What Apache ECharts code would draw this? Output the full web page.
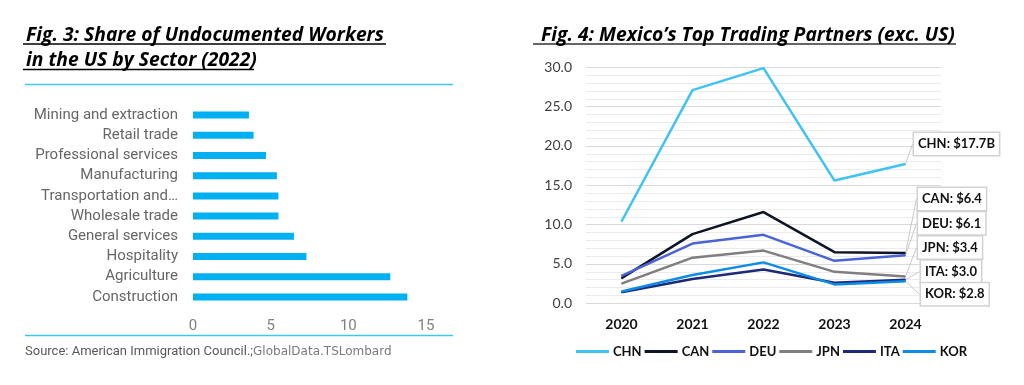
<!DOCTYPE html>
<html>
<head>
<meta charset="utf-8">
<script src="https://cdn.jsdelivr.net/npm/echarts@6/dist/echarts.min.js"></script>
<style>
html,body{margin:0;padding:0;background:#fff;}
#chart{width:1024px;height:385px;}
</style>
</head>
<body>
<div id="chart"></div>
<script>
// ---- Fig. 3 data ----
const sectors = ["Mining and extraction","Retail trade","Professional services","Manufacturing","Transportation and\u2026","Wholesale trade","General services","Hospitality","Agriculture","Construction"];
const sectorShare = [3.6, 3.9, 4.7, 5.4, 5.5, 5.5, 6.5, 7.3, 12.7, 13.8];
const shareTicks = [0, 5, 10, 15];

// ---- Fig. 4 data ----
const years = ["2020","2021","2022","2023","2024"];
const CHN = [10.4, 27.1, 29.9, 15.6, 17.7];
const CAN = [3.2, 8.8, 11.6, 6.5, 6.4];
const DEU = [3.5, 7.6, 8.7, 5.4, 6.1];
const JPN = [2.5, 5.8, 6.7, 4.0, 3.4];
const ITA = [1.4, 3.1, 4.3, 2.6, 3.0];
const KOR = [1.5, 3.6, 5.2, 2.4, 2.8];
const partnerTicks = [0, 5, 10, 15, 20, 25, 30];

const partners = [
  {name:"CHN", data:CHN, color:"#3EC3F3", suffix:"B", dx:3, dy:-20},
  {name:"CAN", data:CAN, color:"#0E1428", suffix:"", dx:7, dy:-54},
  {name:"DEU", data:DEU, color:"#4A63D8", suffix:"", dx:7, dy:-32},
  {name:"JPN", data:JPN, color:"#7F7F7F", suffix:"", dx:7, dy:-29},
  {name:"ITA", data:ITA, color:"#1C2A78", suffix:"", dx:10, dy:-8},
  {name:"KOR", data:KOR, color:"#0C8CE6", suffix:"", dx:10, dy:13}
];

const chart = echarts.init(document.getElementById('chart'), null, {renderer:'canvas'});

const titleStyle = {fontFamily:'Open Sans', fontWeight:'bold', fontStyle:'italic', fontSize:19.3, color:'#000'};

const lineSeries = partners.map(p => ({
  name: p.name,
  type: 'line',
  xAxisIndex: 1, yAxisIndex: 1,
  symbol: 'circle', symbolSize: 1, showSymbol: true,
  lineStyle: {color: p.color, width: 2.5},
  itemStyle: {color: p.color},
  z: 3,
  data: p.data.map((v, i) => i === p.data.length - 1 ? {
    value: v,
    label: {
      show: true,
      position: 'right',
      distance: 5,
      formatter: p.name + ': $' + v.toFixed(1) + p.suffix,
      fontFamily: 'Lato', fontWeight: 'bold', fontSize: 13, color: '#111',
      backgroundColor: '#fff', borderColor: '#d2d2d2', borderWidth: 1.5,
      padding: [5, 4, 4, 4]
    }
  } : v),
  labelLayout: {dx: p.dx, dy: p.dy, hideOverlap: false},
  labelLine: {show: true, lineStyle: {color: '#c9c9c9', width: 1}},
  emphasis: {disabled: true}
}));

const option = {
  animation: false,
  backgroundColor: '#fff',
  title: [
    {text: 'Fig. 3: Share of Undocumented Workers', left: 21, top: 21, textStyle: titleStyle},
    {text: 'in the US by Sector (2022)', left: 21, top: 46.5, textStyle: titleStyle},
    {text: 'Fig. 4: Mexico\u2019s Top Trading Partners (exc. US)', left: 536, top: 21, textStyle: titleStyle}
  ],
  graphic: [
    {type:'line', shape:{x1:23, y1:44, x2:386, y2:44}, style:{stroke:'#000', lineWidth:1.5}},
    {type:'line', shape:{x1:23, y1:69.5, x2:254, y2:69.5}, style:{stroke:'#000', lineWidth:1.5}},
    {type:'line', shape:{x1:533, y1:44, x2:956, y2:44}, style:{stroke:'#333', lineWidth:1.5}},
    {type:'line', shape:{x1:25, y1:84.5, x2:453, y2:84.5}, style:{stroke:'#3CC8F2', lineWidth:1.5}},
    {type:'line', shape:{x1:25, y1:335.5, x2:453, y2:335.5}, style:{stroke:'#3CC8F2', lineWidth:1.5}},
    {type:'text', left: 25, top: 345, style:{
      text: '{a|Source: American Immigration Council.;}{b|GlobalData.TSLombard}',
      rich: {
        a: {fontFamily:'Roboto', fontSize:13, fill:'#595959'},
        b: {fontFamily:'DejaVu Sans', fontSize:12, fill:'#7a7a7a'}
      }
    }}
  ],
  legend: {
    left: 571, top: 340,
    icon: 'rect', itemWidth: 33, itemHeight: 3, itemGap: 3,
    textStyle: {fontFamily:'Lato', fontWeight:'bold', fontSize:13, color:'#111', padding:[0,0,0,-1]},
    data: partners.map(p => p.name)
  },
  grid: [
    {left: 193, top: 105, width: 233, height: 202},
    {left: 586, top: 67.3, width: 355, height: 236}
  ],
  xAxis: [
    {
      type: 'value', gridIndex: 0, min: shareTicks[0], max: shareTicks[shareTicks.length-1], interval: 5,
      axisLine: {show:false}, axisTick: {show:false}, splitLine: {show:false},
      axisLabel: {color:'#7f7f7f', fontFamily:'Roboto', fontSize:15, margin:12}
    },
    {
      type: 'category', gridIndex: 1, data: years, boundaryGap: true,
      axisLine: {show:false}, axisTick: {show:false},
      axisLabel: {color:'#111', fontFamily:'Lato', fontWeight:'bold', fontSize:14, margin:14}
    }
  ],
  yAxis: [
    {
      type: 'category', gridIndex: 0, data: sectors, inverse: true,
      axisLine: {show:false}, axisTick: {show:false},
      axisLabel: {color:'#666', fontFamily:'Roboto', fontSize:15, margin:15}
    },
    {
      type: 'value', gridIndex: 1, min: partnerTicks[0], max: partnerTicks[partnerTicks.length-1], interval: 5,
      axisLine: {show:false}, axisTick: {show:false},
      splitLine: {show:true, lineStyle:{color:'#d9d9d9', width:1}},
      minorTick: {show:false, splitNumber:5},
      minorSplitLine: {show:true, lineStyle:{color:'#ebebeb', width:1}},
      axisLabel: {color:'#404040', fontFamily:'Lato', fontSize:14, margin:14, formatter: v => v.toFixed(1)}
    }
  ],
  series: [
    {
      type: 'bar', xAxisIndex: 0, yAxisIndex: 0,
      data: sectorShare, barWidth: 7,
      itemStyle: {color:'#00B0F0'},
      emphasis: {disabled: true}
    }
  ].concat(lineSeries)
};

chart.setOption(option);
</script>
</body>
</html>
